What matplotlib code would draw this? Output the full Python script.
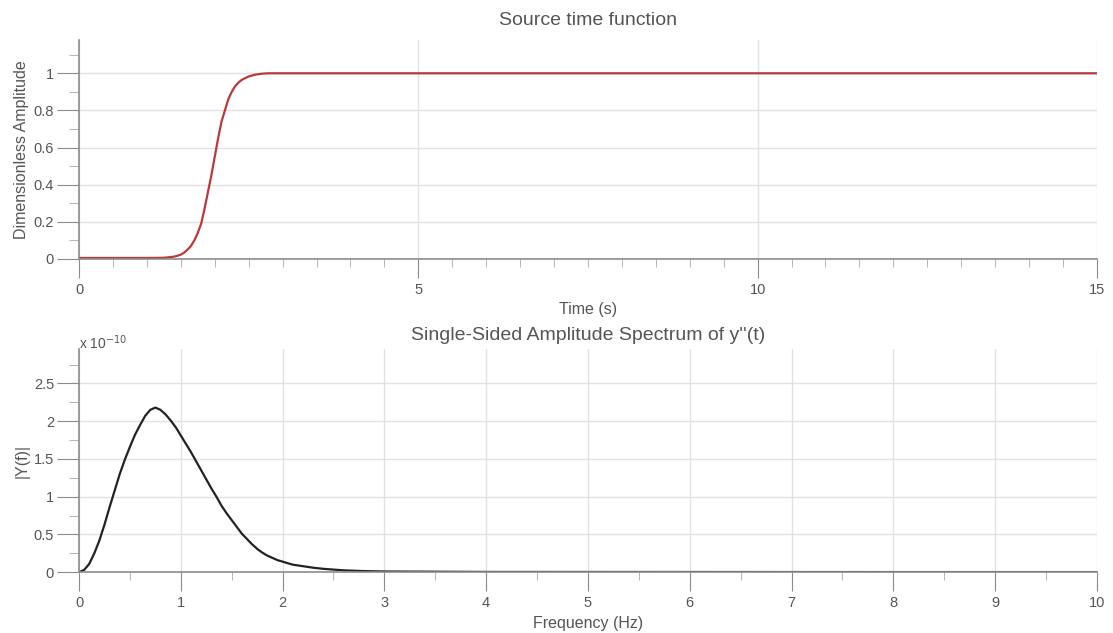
import numpy as np
import matplotlib
matplotlib.use("Agg")
from matplotlib import pyplot as plt
from matplotlib.ticker import MultipleLocator

plt.rcParams['font.family'] = ['Liberation Sans', 'DejaVu Sans']

# source time function
t = [0, 0.5, 1.0, 1.25, 1.4, 1.45, 1.5, 1.55, 1.6, 1.65, 1.7, 1.75, 1.8,
     1.85, 1.9, 1.95, 2.0, 2.05, 2.1, 2.15, 2.2, 2.25, 2.3, 2.35, 2.4,
     2.5, 2.6, 2.7, 2.8, 3.0, 5.0, 10.0, 15.0]
amp = [0.005, 0.005, 0.005, 0.006, 0.012, 0.017, 0.023, 0.034, 0.05, 0.07,
       0.1, 0.14, 0.19, 0.27, 0.36, 0.45, 0.55, 0.65, 0.74, 0.80, 0.86,
       0.90, 0.93, 0.95, 0.965, 0.983, 0.993, 0.998, 1.0, 1.0, 1.0, 1.0, 1.0]

# single-sided amplitude spectrum, units of 1e-10
f = [0, 0.05, 0.1, 0.15, 0.2, 0.25, 0.3, 0.35, 0.4, 0.45, 0.5, 0.55, 0.6,
     0.65, 0.7, 0.75, 0.8, 0.85, 0.9, 0.95, 1.0, 1.05, 1.1, 1.15, 1.2, 1.25,
     1.3, 1.35, 1.4, 1.45, 1.5, 1.55, 1.6, 1.65, 1.7, 1.75, 1.8, 1.85, 1.9,
     1.95, 2.0, 2.1, 2.2, 2.3, 2.4, 2.5, 2.6, 2.8, 3.0, 4.0, 6.0, 8.0, 10.0]
Y = [0, 0.03, 0.11, 0.25, 0.42, 0.63, 0.86, 1.08, 1.30, 1.49, 1.66, 1.82,
     1.95, 2.07, 2.15, 2.18, 2.15, 2.09, 2.01, 1.92, 1.81, 1.70, 1.59, 1.47,
     1.35, 1.23, 1.11, 1.00, 0.88, 0.78, 0.69, 0.60, 0.51, 0.44, 0.37, 0.31,
     0.26, 0.22, 0.19, 0.16, 0.14, 0.10, 0.08, 0.06, 0.045, 0.035, 0.025,
     0.015, 0.01, 0.004, 0.003, 0.002, 0.002]

txt = '#555555'
axc = '#8c8c8c'
gridc = '#e2e2e2'

fig = plt.figure(figsize=(11.13, 6.33), dpi=100)
ax1 = fig.add_axes([0.071, 0.591, 0.9145, 0.346])
ax2 = fig.add_axes([0.071, 0.096, 0.9145, 0.352])


def style(ax):
    for s in ['top', 'right']:
        ax.spines[s].set_visible(False)
    for s in ['left', 'bottom']:
        ax.spines[s].set_color(axc)
        ax.spines[s].set_linewidth(1.2)
    ax.grid(True, which='major', color=gridc, linewidth=1)
    ax.set_axisbelow(True)
    ax.tick_params(which='major', direction='out', color=axc,
                   labelcolor=txt, labelsize=10.5)
    ax.tick_params(which='minor', direction='out', color='#a8a8a8')
    ax.tick_params(axis='x', which='major', length=14, pad=3)
    ax.tick_params(axis='x', which='minor', length=6)
    ax.tick_params(axis='y', which='major', length=16, pad=2)
    ax.tick_params(axis='y', which='minor', length=7)


ax1.plot(t, amp, color='#b83a3a', linewidth=1.6)
ax1.set_xlim(0, 15)
ax1.set_ylim(0, 1.18)
ax1.xaxis.set_major_locator(MultipleLocator(5))
ax1.xaxis.set_minor_locator(MultipleLocator(0.5))
ax1.yaxis.set_minor_locator(MultipleLocator(0.1))
ax1.set_yticks([0, 0.2, 0.4, 0.6, 0.8, 1])
ax1.set_yticklabels(['0', '0.2', '0.4', '0.6', '0.8', '1'])
style(ax1)
ax1.set_title('Source time function', fontsize=14, color=txt, pad=11)
ax1.set_xlabel('Time (s)', fontsize=11.5, color=txt, labelpad=4)
ax1.set_ylabel('Dimensionless Amplitude', fontsize=11.5, color=txt,
               labelpad=3)

ax2.plot(f, Y, color='#222222', linewidth=1.6)
ax2.set_xlim(0, 10)
ax2.set_ylim(0, 2.95)
ax2.xaxis.set_major_locator(MultipleLocator(1))
ax2.xaxis.set_minor_locator(MultipleLocator(0.5))
ax2.set_yticks([0, 0.5, 1, 1.5, 2, 2.5])
ax2.set_yticklabels(['0', '0.5', '1', '1.5', '2', '2.5'])
ax2.yaxis.set_minor_locator(MultipleLocator(0.25))
style(ax2)
ax2.set_title("Single-Sided Amplitude Spectrum of y''(t)", fontsize=14,
              color=txt, pad=7)
ax2.set_xlabel('Frequency (Hz)', fontsize=11.5, color=txt, labelpad=4.5)
ax2.set_ylabel('|Y(f)|', fontsize=11.5, color=txt, labelpad=3)
ax2.text(0.0, 1.03, r'x 10$^{-10}$', transform=ax2.transAxes, fontsize=10,
         color=txt, ha='left', va='center')

fig.savefig('out.png', dpi=100, facecolor='white')
